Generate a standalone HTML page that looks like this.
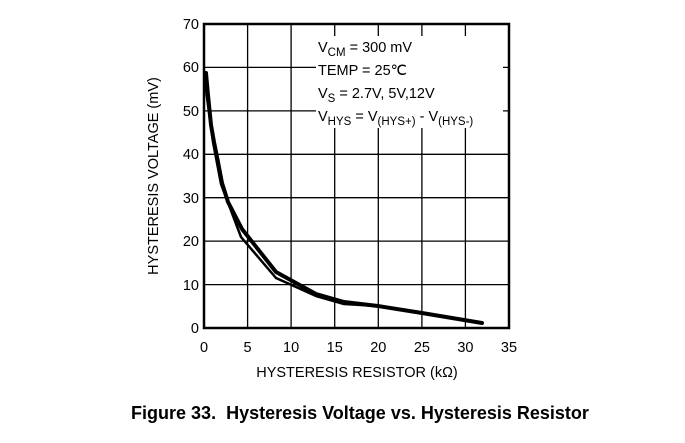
<!DOCTYPE html>
<html><head><style>
body{margin:0;background:#fff;}
svg text{font-family:"Liberation Sans",sans-serif;}
</style></head><body>
<svg width="685" height="438" xmlns="http://www.w3.org/2000/svg">
<g stroke="#000" stroke-width="1.3">
<line x1="247.6" y1="24" x2="247.6" y2="328"/>
<line x1="291.1" y1="24" x2="291.1" y2="328"/>
<line x1="334.7" y1="24" x2="334.7" y2="328"/>
<line x1="378.3" y1="24" x2="378.3" y2="328"/>
<line x1="421.9" y1="24" x2="421.9" y2="328"/>
<line x1="465.4" y1="24" x2="465.4" y2="328"/>
<line x1="204" y1="67.4" x2="509" y2="67.4"/>
<line x1="204" y1="110.9" x2="509" y2="110.9"/>
<line x1="204" y1="154.3" x2="509" y2="154.3"/>
<line x1="204" y1="197.7" x2="509" y2="197.7"/>
<line x1="204" y1="241.1" x2="509" y2="241.1"/>
<line x1="204" y1="284.6" x2="509" y2="284.6"/>
</g>
<rect x="316" y="36" width="187" height="92" fill="#fff"/>
<g font-size="14.5" fill="#000">
<text x="318" y="52">V<tspan font-size="11.5" dy="4">CM</tspan><tspan dy="-4"> = 300 mV</tspan></text>
<text x="318" y="75">TEMP = 25℃</text>
<text x="318" y="98">V<tspan font-size="11.5" dy="4">S</tspan><tspan dy="-4"> = 2.7V, 5V,12V</tspan></text>
<text x="318" y="121">V<tspan font-size="11.5" dy="4">HYS</tspan><tspan dy="-4"> = V</tspan><tspan font-size="11.5" dy="4">(HYS+)</tspan><tspan dy="-4"> - V</tspan><tspan font-size="11.5" dy="4">(HYS-)</tspan></text>
</g>
<g fill="none" stroke="#000" stroke-linejoin="round" stroke-linecap="round">
<polyline stroke-width="4" points="206,73 208,95 211,125 214,142 218,162 222,183 228,202 242,229 276,272 316,294 344,302 378,306 422,313 482,323"/>
<polyline stroke-width="2.5" points="205.5,86 208,105 213,142 221,184 241,237 276,278 316,296 344,304 378,306"/>
</g>
<rect x="204" y="24" width="305" height="304" fill="none" stroke="#000" stroke-width="2.5"/>
<g font-size="14.5" text-anchor="end">
<text x="199" y="29">70</text><text x="199" y="72">60</text><text x="199" y="116">50</text>
<text x="199" y="159">40</text><text x="199" y="203">30</text><text x="199" y="246">20</text>
<text x="199" y="290">10</text><text x="199" y="333">0</text>
</g>
<g font-size="14.5" text-anchor="middle">
<text x="204" y="352">0</text><text x="247.6" y="352">5</text><text x="291.1" y="352">10</text>
<text x="334.7" y="352">15</text><text x="378.3" y="352">20</text><text x="421.9" y="352">25</text>
<text x="465.4" y="352">30</text><text x="509" y="352">35</text>
</g>
<text x="357" y="377" font-size="14.5" text-anchor="middle">HYSTERESIS RESISTOR (kΩ)</text>
<text transform="translate(158,176) rotate(-90)" font-size="14.5" text-anchor="middle">HYSTERESIS VOLTAGE (mV)</text>
<text x="360" y="419" font-size="18" font-weight="bold" text-anchor="middle" xml:space="preserve">Figure 33.  Hysteresis Voltage vs. Hysteresis Resistor</text>
</svg>
</body></html>
